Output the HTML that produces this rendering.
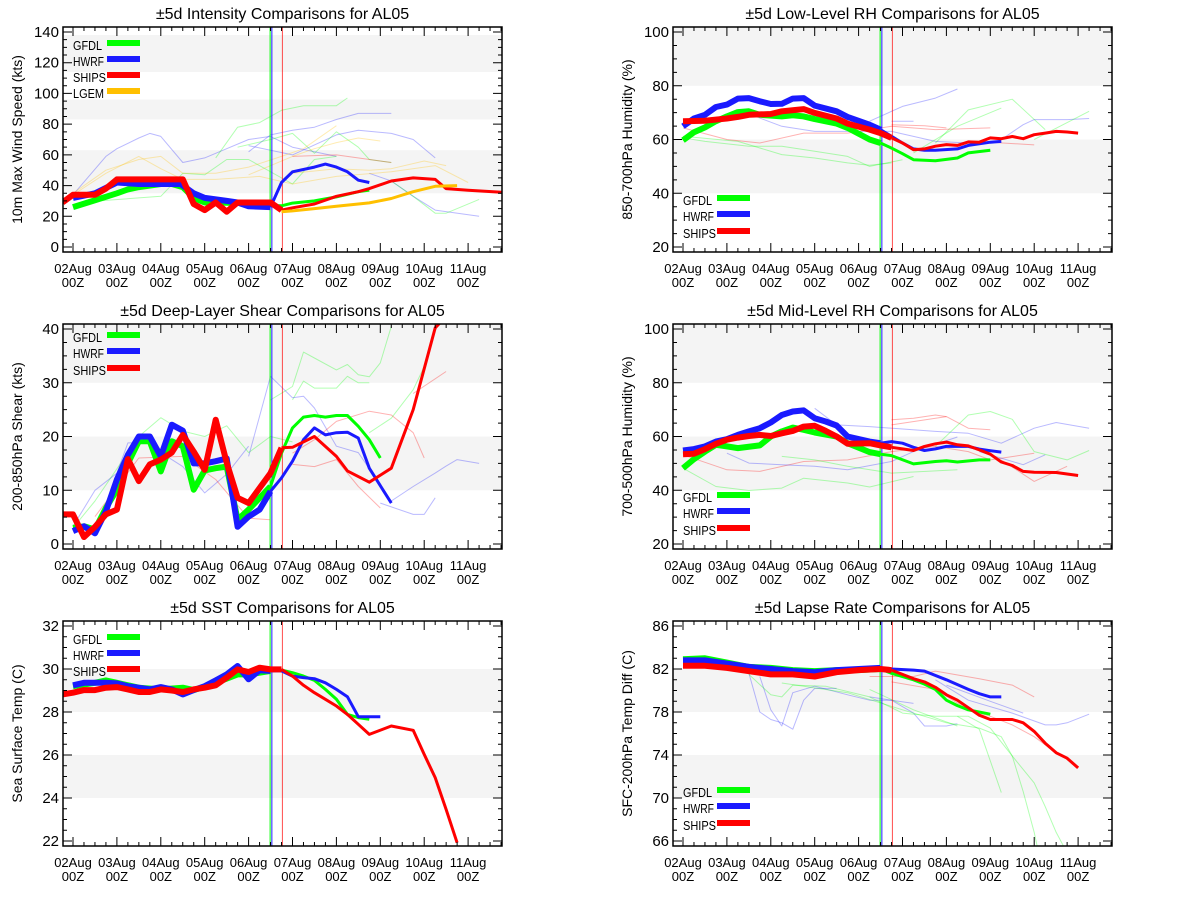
<!DOCTYPE html>
<html><head><meta charset="utf-8"><style>
html,body{margin:0;padding:0;background:#fff;}
svg{display:block;font-family:"Liberation Sans",sans-serif;}
</style></head><body>
<svg id="root" width="1200" height="900" viewBox="0 0 1200 900"></svg>
<script>
// ===== Data (time in days since 02Aug 00Z) =====
const dayLabels = ["02Aug","03Aug","04Aug","05Aug","06Aug","07Aug","08Aug","09Aug","10Aug","11Aug"];
const initTimes = [4.49, 4.53, 4.77]; // GFDL, HWRF, SHIPS init lines

// Panel 1: intensity
const p1Ticks = [0,20,40,60,80,100,120,140];
const p1Bands = [[114,138],[83,96],[35,63]];
const p1GfdlH = [[0,26],[0.5,30.5],[1,35],[1.25,37.5],[1.5,39],[2,41],[2.25,41],[2.5,39],[2.75,32],[3,29],[3.75,28.7],[4.5,27]];
const p1GfdlF = [[4.5,27],[4.75,26.8],[5,28.6],[5.5,30],[6,32.6],[6.5,36],[6.75,37]];
const p1HwrfH = [[0,32],[0.5,35],[1,42],[1.5,41],[2,41],[2.45,41],[2.75,35],[3,32],[3.5,30],[3.75,29],[4,26.5],[4.5,26]];
const p1HwrfF = [[4.5,26],[4.75,42],[5,49],[5.5,52],[5.75,54],[6,52],[6.25,49],[6.5,43.5],[6.75,42]];
const p1ShipsH = [[-0.24,29],[0,34],[0.25,34],[0.5,34],[0.75,38],[1,44],[2.5,44],[2.75,28],[3,24],[3.25,29],[3.5,23],[3.75,29],[4.5,29],[4.75,24]];
const p1ShipsF = [[4.75,24],[5,25.5],[5.5,28],[6,33],[6.5,36],[6.75,38],[7.25,43],[7.75,45],[8.25,44],[8.5,38],[9,37],[9.76,35.6]];
const p1Lgem = [[4.75,23],[5,23.5],[5.5,25],[6,26.5],[6.75,28.7],[7.25,31.6],[7.75,36],[8.25,39.5],[8.75,40]];
const p1SpagBlue = [
 [[0,34],[0.75,59],[1,64],[1.5,71],[1.75,74],[2,72],[2.5,55],[3,58],[3.5,64],[4,70],[4.5,72],[5,65],[5.5,62],[6,59]],
 [[4,62],[4.5,73],[5,76],[5.5,78],[6,83],[6.5,87],[7.25,87]],
 [[4,66],[5,60],[6,73],[6.5,76],[7.25,74],[7.75,70],[8.25,58]],
 [[6.75,48],[7.25,43],[7.75,33],[8.25,24],[9.25,20]]];
const p1SpagGreen = [
 [[3.25,58],[3.75,78],[4.25,81],[4.75,89],[5.25,92],[6,92],[6.25,97]],
 [[3.75,65],[4.5,70],[5,74],[5.5,61],[6,75],[6.5,65],[6.75,57],[7.25,55]],
 [[0.6,30],[1.5,32],[2,33],[2.5,48],[3,47],[3.5,57],[4,57],[5,41],[5.5,57],[6,59]],
 [[7.25,43],[7.75,33],[8.25,22],[8.5,22],[9.25,31]]];
const p1SpagOrange = [
 [[0,35],[0.75,50],[1.5,57],[2,59],[2.5,48],[3.25,48],[4,52],[4.75,59],[5.25,64],[6,79]],
 [[4,47],[5,59],[5.5,64],[6,68],[6.5,71],[7,69]],
 [[5,48],[6,51],[6.75,50],[7.25,51],[8,56],[8.5,53]],
 [[0,34],[0.75,48],[1.5,59],[2,51],[2.5,44],[3.25,44],[4.25,46],[5,41],[6,46],[7.25,49],[8.25,53],[9,42]]];
const p1SpagRed = [[[5,59],[6,60],[7.25,55]]];

// Panel 2: low-level RH
const p2Ticks = [20,40,60,80,100];
const p2Bands = [[80,103],[40,60]];
const p2GfdlH = [[0,59.7],[0.25,62.7],[0.5,64.5],[0.75,66.8],[1,68.6],[1.25,70.2],[1.5,70.5],[1.75,69.2],[2.25,68.6],[2.5,69],[2.75,68.6],[3,67.6],[3.5,65.9],[3.75,64.3],[4.25,60],[4.5,58.7]];
const p2GfdlF = [[4.5,58.7],[4.75,56.8],[5,54.7],[5.25,52.5],[5.75,52.1],[6.25,53.1],[6.5,55],[7,56]];
const p2HwrfH = [[0,64.9],[0.25,67.8],[0.5,69.2],[0.75,72.1],[1,73],[1.25,75.2],[1.5,75.4],[1.75,74.2],[2,73.2],[2.25,73.3],[2.5,75.2],[2.75,75.4],[3,72.6],[3.5,70.5],[3.75,68.4],[4.25,65.5],[4.5,63.7]];
const p2HwrfF = [[4.5,63.7],[4.75,61.2],[5,58.7],[5.25,56.5],[5.5,56],[5.75,56],[6.25,56.5],[6.5,57.8],[7,59],[7.25,59.3]];
const p2ShipsH = [[0,66.8],[0.5,67],[1,67.8],[1.25,68.4],[1.5,69.2],[2,69.5],[2.25,70.5],[2.75,71.3],[3,69.9],[3.5,67.8],[3.75,65.9],[4.25,63.7],[4.5,62.4],[4.75,60.6]];
const p2ShipsF = [[4.75,60.6],[5,58.7],[5.25,56.2],[5.5,56.5],[5.75,57.5],[6,58.1],[6.25,57.8],[6.5,59.1],[6.75,59],[7,60.6],[7.25,60.3],[7.5,61.1],[7.75,60.3],[8,61.8],[8.25,62.4],[8.5,63],[8.75,62.8],[9,62.4]];
const p2SpagBlue = [
 [[4.25,66.8],[5,72.3],[5.75,75.4],[6.25,78.8]],
 [[4.75,66.8],[5.25,66.8]],
 [[7.25,60],[7.75,65.5],[8,67.4],[8.75,67.4],[9.25,67.8]],
 [[1.25,71],[2.25,64.9],[3,63],[3.75,63],[4.75,63],[5.75,59.3],[6.5,58.7]]];
const p2SpagGreen = [
 [[5.75,58.7],[6.5,71],[7.5,75],[8.25,63.7]],
 [[5.25,55],[6.25,64.9],[7.25,71.7]],
 [[0,60.6],[0.5,59.3],[1.5,57.5],[2.25,57.5],[3,55.6],[3.75,53.7],[4.25,50],[5,52.5]],
 [[0,61.2],[1.25,59.3],[2.25,54.4],[3,53.1],[3.75,51.3],[4.25,50.4],[4.75,51.3]],
 [[8,60],[9.25,70.5]]];
const p2SpagRed = [
 [[0,64.3],[1,60],[1.75,58.7],[2.75,62.4],[3.75,62.4],[4.75,64.9],[5.75,63.7],[7,64.3]],
 [[4.75,65.5],[5.5,65.1],[6,64.3]],
 [[7,59],[8,58]]];

// Panel 3: deep-layer shear
const p3Ticks = [0,10,20,30,40];
const p3Bands = [[30,41],[10,20]];
const p3GfdlH = [[0,3],[0.25,3.3],[0.5,2.7],[0.75,6.7],[1,10.1],[1.25,15],[1.5,19.1],[1.75,19.1],[2,13.5],[2.25,19.1],[2.5,18.2],[2.75,10.1],[3,13.7],[3.25,14.1],[3.5,14.4],[3.75,4.5],[4,6.4],[4.5,10.7]];
const p3GfdlF = [[4.5,10.7],[4.75,16.9],[5,21.6],[5.25,23.6],[5.5,23.9],[5.75,23.6],[6,23.9],[6.25,23.9],[6.5,21.9],[6.75,19.4],[7,16]];
const p3HwrfH = [[0,2.4],[0.25,3.3],[0.5,2],[0.75,6.1],[1,12],[1.25,16.6],[1.5,20],[1.75,20],[2,16.3],[2.25,22.2],[2.5,21.1],[2.75,15],[3,15],[3.25,15.4],[3.5,15.9],[3.75,3.2],[4,5.1],[4.25,6.4],[4.5,9.8]];
const p3HwrfF = [[4.5,9.8],[4.75,12.3],[5,15.4],[5.25,19.4],[5.5,21.6],[5.75,20.3],[6,20.7],[6.25,20.8],[6.5,19.7],[6.75,14.1],[7.25,7.6]];
const p3ShipsH = [[-0.24,5.5],[0,5.5],[0.25,1.3],[0.5,3.2],[0.75,5.5],[1,6.4],[1.25,15.8],[1.5,11.7],[1.75,14.8],[2,15.7],[2.25,17],[2.5,20.3],[2.75,17.2],[3,13.8],[3.25,23.1],[3.5,15.1],[3.75,8.6],[4,7.6],[4.5,13.2],[4.75,17.9]];
const p3ShipsF = [[4.75,17.9],[5,18],[5.5,20],[6,16.3],[6.25,13.6],[6.75,11.5],[7.25,14.1],[7.75,25],[8.25,40.2],[8.4,41.5]];
const p3SpagGreen = [
 [[4.5,26.8],[5,29.3],[5.25,35.7],[5.5,34.6],[6,32.4],[6.25,33.4],[6.5,31.5],[6.75,31.1],[7,33.7],[7.25,40.5]],
 [[5,26.8],[5.25,30.3],[5.5,29],[6,29],[6.25,31.2],[6.5,30],[6.75,30]],
 [[6.75,20.7],[7.25,23.4],[7.75,28.7],[8,33]],
 [[0,3],[0.5,8],[1,14],[1.5,20],[2,23.5],[2.5,21],[3,20],[3.5,22],[4,17],[4.5,20],[5,19]]];
const p3SpagBlue = [
 [[4,16.3],[4.5,31.2],[5,27.2],[5.25,27.5],[5.5,25.3],[6,18.2],[6.5,17],[7,11]],
 [[7,7.6],[7.75,5.5],[8,5.5],[8.25,8.6]],
 [[7.25,8],[7.75,10.7],[8.25,13.2],[8.5,14.5],[8.75,15.7],[9.25,15]],
 [[0,3.3],[0.5,10],[1,13.2],[1.25,18.8],[1.75,18.8],[2,17],[2.5,14.4],[3,9.5],[3.5,13],[4,18.2]]];
const p3SpagRed = [
 [[5,16.9],[5.5,19.4],[6,22.8],[6.75,24.7],[7.25,24],[7.75,20.7],[8,16]],
 [[7.75,28],[8.5,32.1]],
 [[0.5,5.1],[1.5,16],[2.5,16.3],[3.25,12],[4,4.8],[4.5,4.5]],
 [[5,14.8],[5.5,14.4],[6,15.7],[6.5,10.7],[7,6.7]]];

// Panel 4: mid-level RH
const p4Ticks = [20,40,60,80,100];
const p4Bands = [[80,103],[40,60]];
const p4GfdlH = [[0,48.2],[0.25,51.6],[0.5,54.4],[0.75,56.9],[1,56.3],[1.25,55.7],[1.75,56.7],[2,60],[2.25,61.9],[2.5,63.3],[2.75,62.5],[3,61.5],[3.5,60],[3.75,57.5],[4.25,54.2],[4.5,53.4]];
const p4GfdlF = [[4.5,53.4],[4.75,52.9],[5.25,49.8],[5.75,50.7],[6,51],[6.25,50.5],[6.75,51.3],[7,51.3]];
const p4HwrfH = [[0,54.8],[0.25,55.3],[0.5,56.3],[0.75,58.1],[1,59],[1.25,60.6],[1.5,61.9],[1.75,63.1],[2,65.2],[2.25,68],[2.5,69.3],[2.75,69.7],[3,66.8],[3.25,65.6],[3.5,64.1],[3.75,60],[4.25,58.1],[4.5,57.5]];
const p4HwrfF = [[4.5,57.5],[4.75,58.1],[5,57.5],[5.25,56],[5.5,54.8],[5.75,55.4],[6,56.3],[6.5,56.3],[6.75,55.3],[7,54.7],[7.25,54.2]];
const p4ShipsH = [[0,53.4],[0.25,53.6],[0.5,55.3],[0.75,57.3],[1,58.8],[1.25,59.6],[1.5,60.2],[1.75,60.6],[2,60.2],[2.25,61.2],[2.5,62.1],[2.75,63.7],[3,64],[3.25,62.1],[3.5,60],[3.75,57.3],[4.25,57.5],[4.5,56.7],[4.75,56]];
const p4ShipsF = [[4.75,56],[5,55.4],[5.25,54.8],[5.5,56.3],[5.75,57.3],[6,57.9],[6.25,56.9],[6.5,56.5],[6.75,55],[7,53.4],[7.25,50.5],[7.5,49.2],[7.75,47],[8,46.7],[8.5,46.6],[9,45.5]];
const p4SpagRed = [
 [[4.75,66.2],[5.25,66.8],[5.75,68],[6,67.4]],
 [[0,53.2],[1,47.6],[1.75,47],[2.75,50.7],[3.75,51.3],[4.75,54.4],[5.75,56.3],[6.5,54.4],[7,51.3],[8,53.8]],
 [[4.75,64.3],[6,67.4],[6.5,63.1],[7,62.5]],
 [[7.25,51.3],[8,43.3],[8.75,48.9]]];
const p4SpagBlue = [
 [[3,70.5],[3.5,64.3],[4.25,63.7],[5.75,61.9],[6.5,61.2],[7.25,57.5],[8,63.1],[8.5,65.2],[9.25,63.1]],
 [[1,53.8],[1.5,50.1],[2.25,49.5],[3,48.9],[3.75,47.6],[4.75,50.7],[5.25,54.4],[6.25,59.8]],
 [[6.75,54.4],[7.75,49.5],[8.25,53.2]]];
const p4SpagGreen = [
 [[0,48.2],[0.75,41.4],[1.5,39.9],[2.25,40.8],[2.75,44.5],[3.75,42.7],[4.25,41.2],[5.25,45.1]],
 [[5.75,56.3],[6.5,68],[7,69.3],[7.5,66.4],[8,54.4],[8.75,51.3],[9.25,54.8]],
 [[2.25,52.6],[3,51.3],[3.75,48.9],[4.75,46.4],[6.25,47.6]]];

// Panel 5: SST
const p5Ticks = [22,24,26,28,30,32];
const p5Bands = [[28,30],[24,26]];
const p5GfdlH = [[0,29.2],[0.5,29.36],[0.75,29.47],[1,29.36],[1.5,29.13],[2,29.05],[2.5,29.13],[2.75,29.02],[3.25,29.36],[3.75,29.75],[4,29.75],[4.5,29.91]];
const p5GfdlF = [[4.5,29.91],[4.75,29.95],[5,29.83],[5.25,29.67],[5.5,29.47],[5.75,29.05],[6,28.59],[6.25,27.89],[6.5,27.74],[6.75,27.66]];
const p5HwrfH = [[0,29.24],[0.25,29.36],[0.75,29.36],[1,29.33],[1.25,29.2],[1.5,29.13],[1.75,29.05],[2,29.16],[2.25,29.05],[2.5,28.82],[2.75,29.02],[3,29.2],[3.25,29.47],[3.5,29.75],[3.75,30.14],[4,29.52],[4.25,29.94],[4.5,29.91]];
const p5HwrfF = [[4.5,29.91],[4.75,29.91],[5,29.67],[5.25,29.6],[5.5,29.55],[5.75,29.36],[6,29.05],[6.25,28.71],[6.5,27.78],[6.75,27.78],[7,27.78]];
const p5ShipsH = [[-0.24,28.82],[0,28.9],[0.25,29.02],[0.5,29.02],[0.75,29.13],[1,29.16],[1.25,29.05],[1.5,28.93],[1.75,28.93],[2,29.05],[2.25,29],[2.5,28.93],[2.75,29.05],[3,29.13],[3.25,29.24],[3.5,29.6],[3.75,29.98],[4,29.86],[4.25,30.06],[4.5,29.98],[4.75,29.98]];
const p5ShipsF = [[4.75,29.98],[5,29.67],[5.25,29.24],[5.5,28.9],[5.75,28.59],[6,28.28],[6.25,27.89],[6.5,27.43],[6.75,26.96],[7.25,27.35],[7.75,27.15],[8,26.03],[8.25,24.95],[8.5,23.47],[8.75,21.92]];

// Panel 6: lapse rate
const p6Ticks = [66,70,74,78,82,86];
const p6Bands = [[78,82],[70,74]];
const p6GfdlH = [[0,82.9],[0.5,83],[1,82.6],[1.5,82.2],[2,82.1],[2.5,81.9],[3,81.8],[3.5,81.9],[4,81.9],[4.5,82]];
const p6GfdlF = [[4.5,82],[4.75,81.6],[5,81.3],[5.25,81],[5.5,80.6],[5.75,80.1],[6,79.1],[6.25,78.6],[6.5,78.2],[7,77.8]];
const p6HwrfH = [[0,82.8],[0.25,82.8],[0.5,82.8],[1,82.5],[1.5,82.2],[2,82],[2.5,81.8],[3,81.7],[3.5,81.9],[4,82],[4.5,82.1]];
const p6HwrfF = [[4.5,82.1],[4.75,82],[5.25,81.9],[5.5,81.8],[6,81],[6.5,80.1],[6.75,79.7],[7,79.4],[7.25,79.4]];
const p6ShipsH = [[0,82.3],[0.5,82.3],[1,82.1],[1.5,81.8],[2,81.5],[2.5,81.5],[3,81.3],[3.5,81.7],[4,81.9],[4.5,82],[4.75,81.9]];
const p6ShipsF = [[4.75,81.9],[5.25,81.1],[5.5,80.8],[5.75,80.3],[6,79.6],[6.25,79.1],[6.5,78.4],[6.75,77.7],[7,77.3],[7.5,77.3],[7.75,77],[8,76.2],[8.25,75.1],[8.5,74.2],[8.75,73.7],[9,72.8]];
const p6SpagBlue = [
 [[1,82.1],[1.5,81.6],[1.75,78],[2,77.3],[2.25,77],[2.5,76.4],[2.75,79.1],[3,80.2],[3.5,80.2]],
 [[1.75,81.3],[2,78.2],[2.25,76.7],[2.5,79.8],[3,80.4],[3.75,79.6],[4.25,79.1],[4.75,79.1],[5.25,78.8]],
 [[4.25,79.4],[4.75,79.1],[5.25,77.9],[5.5,76.7],[6,76.7],[6.25,76.9]],
 [[5.75,81],[6.5,79.1],[7.5,77.9],[8.25,76.8],[8.5,76.8],[8.75,77],[9.25,77.8]],
 [[6,80.5],[7,79],[7.75,77.9]]];
const p6SpagGreen = [
 [[1.5,81.5],[2,79.6],[2.25,79.4],[2.5,80.5],[3.25,80.4],[4.25,79.4],[5,77.9],[5.75,77.6],[6.5,77.6],[7,76.5],[7.5,73.9],[8,71.4],[8.25,69.2],[8.5,66.8],[8.75,64.9]],
 [[2.25,80.7],[3.75,79.8],[5,78.2],[6,77],[6.75,76.5],[7.25,75.7],[7.5,73.9],[7.75,70.6],[8,66.8],[8.1,64.9]],
 [[6.25,77.6],[6.75,76.4],[7.25,70.5]],
 [[4.25,80.1],[5.25,78.2],[6.25,76.7]]];
const p6SpagRed = [
 [[4.25,81.3],[5.25,81.3],[5.75,81.8],[6.75,81.1],[7.5,80.5],[8,79.4]],
 [[4.75,80.8],[5.75,80.1],[6.5,78.2],[7,77.6],[7.5,76.8],[8,75.7],[8.5,74.2]]];

// ===== Rendering =====
const NS = "http://www.w3.org/2000/svg";
const root = document.getElementById('root');
const BW = 439, BH = 225, DAY = 43.9;
const C = {g:'#00ff00', b:'#1a1aff', r:'#ff0000', o:'#ffc000'};
const legendWidths = [29, 31, 33, 31];
function mk(tag, attrs, parent){ const e = document.createElementNS(NS, tag); for (const k in attrs) e.setAttribute(k, attrs[k]); (parent||root).appendChild(e); return e; }

const panels = [
 {id:'intensity', x:63, y:27, ymin:0, ymax:140, minor:5, ticks:p1Ticks, bands:p1Bands, title:'±5d Intensity Comparisons for AL05', ylab:'10m Max Wind Speed (kts)', leg:[73,[45,61,77,93]],
  series:[['g',p1GfdlH,p1GfdlF],['b',p1HwrfH,p1HwrfF],['r',p1ShipsH,p1ShipsF],['o',null,p1Lgem]], spag:[['b',p1SpagBlue],['g',p1SpagGreen],['o',p1SpagOrange],['r',p1SpagRed]], names:['GFDL','HWRF','SHIPS','LGEM'], fw:3},
 {id:'low-rh', x:673, y:27, ymin:20, ymax:100, minor:5, ticks:p2Ticks, bands:p2Bands, title:'±5d Low-Level RH Comparisons for AL05', ylab:'850-700hPa Humidity (%)', leg:[683,[200,216,233]],
  series:[['g',p2GfdlH,p2GfdlF],['b',p2HwrfH,p2HwrfF],['r',p2ShipsH,p2ShipsF]], spag:[['b',p2SpagBlue],['g',p2SpagGreen],['r',p2SpagRed]], names:['GFDL','HWRF','SHIPS'], fw:3},
 {id:'shear', x:63, y:324, ymin:0, ymax:40, minor:2.5, ticks:p3Ticks, bands:p3Bands, title:'±5d Deep-Layer Shear Comparisons for AL05', ylab:'200-850hPa Shear (kts)', leg:[73,[337,353,370]],
  series:[['g',p3GfdlH,p3GfdlF],['b',p3HwrfH,p3HwrfF],['r',p3ShipsH,p3ShipsF]], spag:[['g',p3SpagGreen],['b',p3SpagBlue],['r',p3SpagRed]], names:['GFDL','HWRF','SHIPS'], fw:3},
 {id:'mid-rh', x:673, y:324, ymin:20, ymax:100, minor:5, ticks:p4Ticks, bands:p4Bands, title:'±5d Mid-Level RH Comparisons for AL05', ylab:'700-500hPa Humidity (%)', leg:[683,[497,513,530]],
  series:[['g',p4GfdlH,p4GfdlF],['b',p4HwrfH,p4HwrfF],['r',p4ShipsH,p4ShipsF]], spag:[['r',p4SpagRed],['b',p4SpagBlue],['g',p4SpagGreen]], names:['GFDL','HWRF','SHIPS'], fw:3},
 {id:'sst', x:63, y:621, ymin:22, ymax:32, minor:0.5, ticks:p5Ticks, bands:p5Bands, title:'±5d SST Comparisons for AL05', ylab:'Sea Surface Temp (C)', leg:[73,[639,655,671]],
  series:[['g',p5GfdlH,p5GfdlF],['b',p5HwrfH,p5HwrfF],['r',p5ShipsH,p5ShipsF]], spag:[], names:['GFDL','HWRF','SHIPS'], fw:3},
 {id:'lapse', x:673, y:621, ymin:66, ymax:86, minor:1, ticks:p6Ticks, bands:p6Bands, title:'±5d Lapse Rate Comparisons for AL05', ylab:'SFC-200hPa Temp Diff (C)', leg:[683,[792,808,825]],
  series:[['g',p6GfdlH,p6GfdlF],['b',p6HwrfH,p6HwrfF],['r',p6ShipsH,p6ShipsF]], spag:[['b',p6SpagBlue],['g',p6SpagGreen],['r',p6SpagRed]], names:['GFDL','HWRF','SHIPS'], fw:3}
];
const seriesNames = {g:'gfdl', b:'hwrf', r:'ships', o:'lgem'};

panels.forEach((P, pi) => {
  const xs = t => P.x + 10 + t*DAY;
  const ys = v => P.y + 5 + (P.ymax - v)/(P.ymax - P.ymin)*215;
  const g = mk('g', {});
  
  
  const cp = mk('clipPath', {id:'clip'+pi}, g);
  mk('rect', {x:P.x, y:P.y, width:BW, height:BH}, cp);
  const plot = mk('g', {'clip-path':'url(#clip'+pi+')'}, g);
  P.bands.forEach(b => {
    const r = mk('rect', {x:P.x, y:ys(b[1]), width:BW, height:ys(b[0])-ys(b[1]), fill:'#f4f4f4'}, plot);
    
    
  });
  const line = (pts, col, w, op) => {
    const p = mk('polyline', {points: pts.map(d => xs(d[0]).toFixed(1)+','+ys(d[1]).toFixed(1)).join(' '), fill:'none', stroke:col, 'stroke-width':w, 'stroke-opacity':op, 'stroke-linejoin':'round'}, plot);
    return p;
  };
  P.spag.forEach(s => s[1].forEach(pts => {
    const p = line(pts, C[s[0]], 1, 0.3);
    
    
  }));
  [['g',initTimes[0]],['b',initTimes[1]],['r',initTimes[2]]].forEach(v => {
    const l = mk('line', {x1:xs(v[1]), x2:xs(v[1]), y1:P.y, y2:P.y+BH, stroke:C[v[0]], 'stroke-width':1, 'stroke-opacity':v[0]==='r'?0.7:1}, plot);
    
    
  });
  P.series.forEach(s => {
    if (s[2]) { const p = line(s[2], C[s[0]], P.fw, 1);
      
       }
    if (s[1]) { const p = line(s[1], C[s[0]], 6, 1);
      
       }
  });
  const fr = mk('rect', {x:P.x, y:P.y, width:BW, height:BH, fill:'none', stroke:'#000', 'stroke-width':1.5}, g);
  
  
  let tk = '';
  for (let q = -1; q <= 39; q++) {
    const t = q*0.25, X = xs(t);
    if (X < P.x || X > P.x+BW) continue;
    const L = (q % 4 === 0) ? 9 : 4;
    tk += `M${X},${P.y+BH}v${-L}M${X},${P.y}v${L}`;
  }
  for (let v = P.ymin; v <= P.ymax + 1e-6; v += P.minor) {
    const Y = ys(v), major = P.ticks.some(t => Math.abs(t-v) < 1e-6), L = major ? 9 : 4;
    tk += `M${P.x},${Y}h${L}M${P.x+BW},${Y}h${-L}`;
  }
  const tp = mk('path', {d:tk, stroke:'#000', 'stroke-width':1, fill:'none'}, g);
  
  
  P.ticks.forEach(v => {
    const t = mk('text', {x:P.x-4, y:ys(v)+5, 'text-anchor':'end', 'font-size':15}, g);
    t.textContent = v;
    
    
  });
  dayLabels.forEach((d, i) => {
    const X = xs(i);
    const t = mk('text', {x:X, y:P.y+BH+21, 'text-anchor':'middle', 'font-size':13}, g);
    t.textContent = d;
    
    
    const t2 = mk('text', {x:X, y:P.y+BH+35, 'text-anchor':'middle', 'font-size':13}, g);
    t2.textContent = '00Z';
    
    
  });
  const ti = mk('text', {x:P.x+BW/2, y:P.y-8, 'text-anchor':'middle', 'font-size':16}, g);
  ti.textContent = P.title;
  
  
  const ax = P.x - 41, ay = P.y + BH/2;
  const yt = mk('text', {x:ax, y:ay, 'text-anchor':'middle', 'font-size':14, transform:`rotate(-90 ${ax} ${ay})`}, g);
  yt.textContent = P.ylab;
  
  
  P.names.forEach((n, i) => {
    const col = C[['g','b','r','o'][i]];
    const ly = P.leg[1][i];
    const lt = mk('text', {x:P.leg[0], y:ly+5, 'font-size':13, textLength:legendWidths[i], lengthAdjust:'spacingAndGlyphs'}, g);
    lt.textContent = n;
    
    
    const sw = mk('line', {x1:P.leg[0]+34, x2:P.leg[0]+67, y1:ly-2, y2:ly-2, stroke:col, 'stroke-width':6}, g);
    
    
  });
});
</script>
</body></html>
